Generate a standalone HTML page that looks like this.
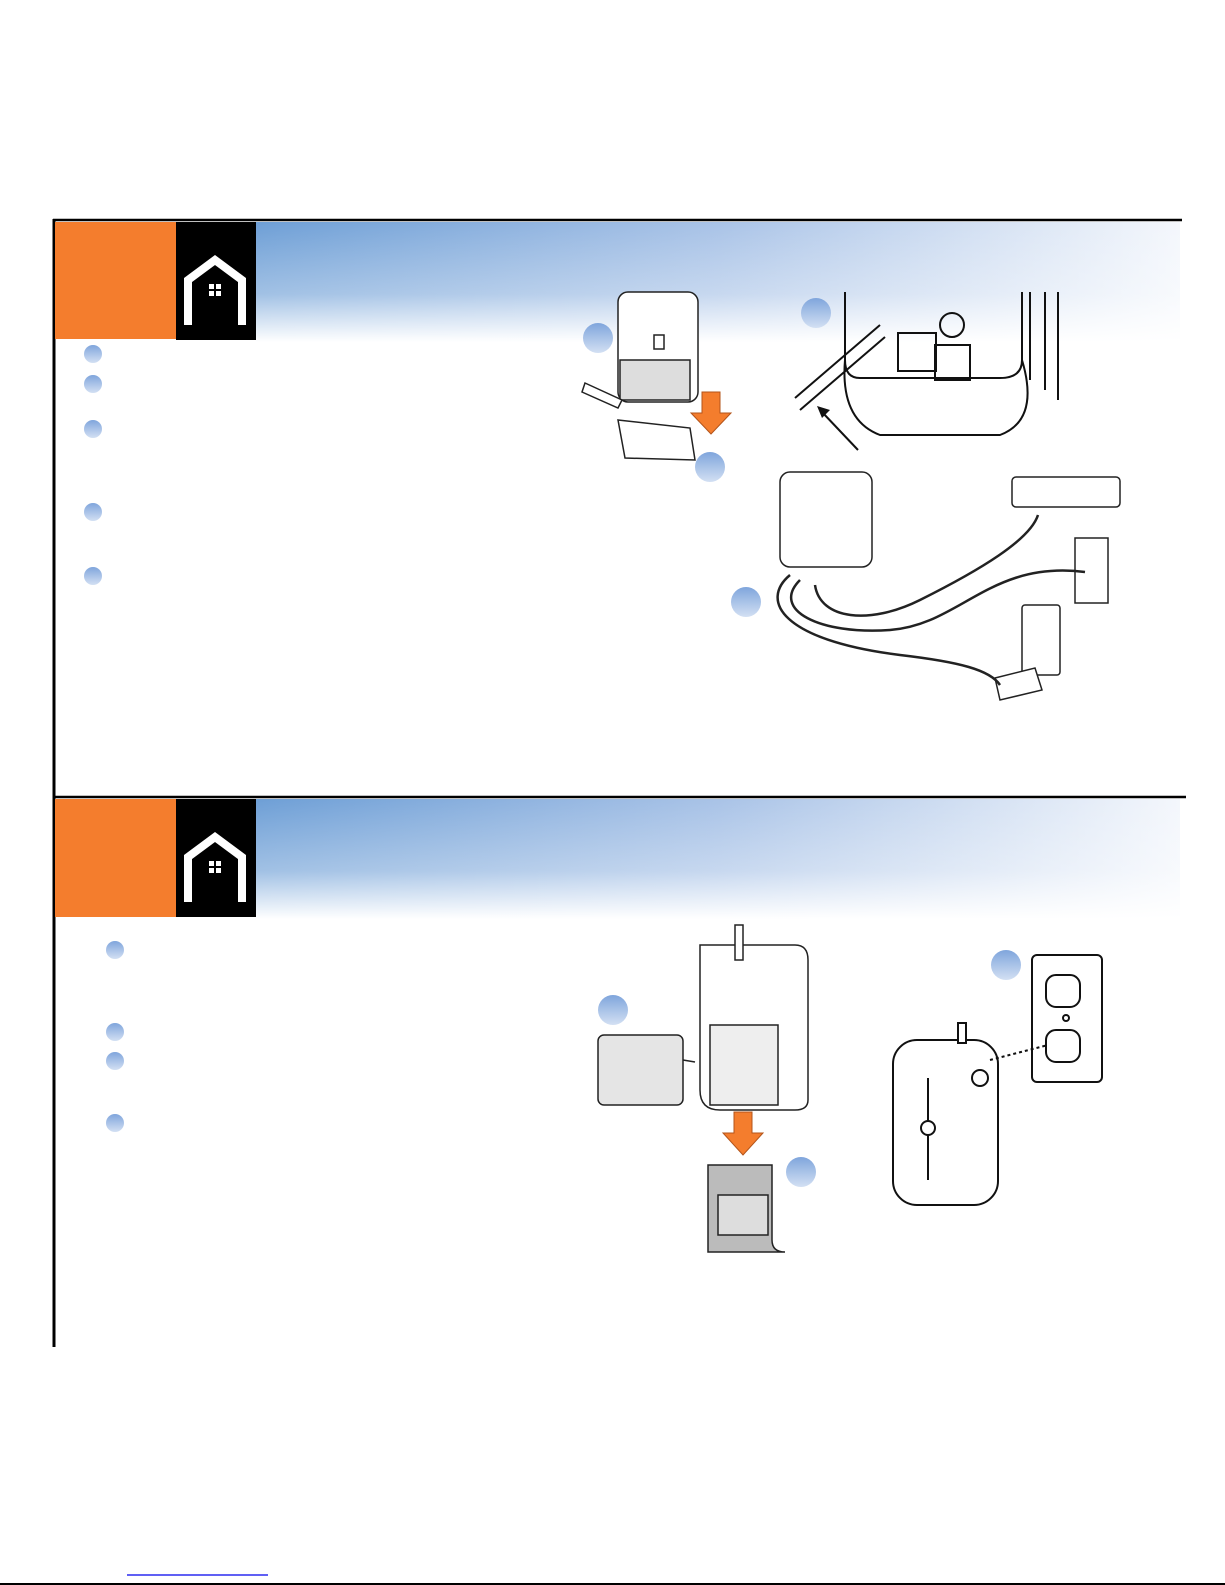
<!DOCTYPE html>
<html><head><meta charset="utf-8"><style>
html,body{margin:0;padding:0;background:#fff}
svg{display:block}
</style></head><body>
<svg width="1225" height="1585" viewBox="0 0 1225 1585" xmlns="http://www.w3.org/2000/svg">
<defs>
<linearGradient id="hg" x1="0" y1="0" x2="1" y2="0">
<stop offset="0" stop-color="#6e9fd6"/><stop offset="0.5" stop-color="#a9c3e7"/><stop offset="1" stop-color="#f4f7fc"/>
</linearGradient>
<linearGradient id="hv" x1="0" y1="0" x2="0" y2="1">
<stop offset="0" stop-color="#fff" stop-opacity="0"/><stop offset="0.6" stop-color="#fff" stop-opacity="0.35"/><stop offset="1" stop-color="#fff" stop-opacity="1"/>
</linearGradient>
<linearGradient id="bg" x1="0" y1="0" x2="0" y2="1">
<stop offset="0" stop-color="#7fa5dc"/><stop offset="1" stop-color="#d3e0f3"/>
</linearGradient>
<g id="house">
<path d="M12 70 V25 L39 5 L66 25 V70" fill="none" stroke="#fff" stroke-width="8"/>
<rect x="33" y="29" width="5" height="5" fill="#fff"/><rect x="40" y="29" width="5" height="5" fill="#fff"/>
<rect x="33" y="36" width="5" height="5" fill="#fff"/><rect x="40" y="36" width="5" height="5" fill="#fff"/>
</g>
</defs>
<line x1="53" y1="220" x2="1182" y2="220" stroke="#000" stroke-width="2.5"/>
<line x1="53" y1="797" x2="1186" y2="797" stroke="#000" stroke-width="2.5"/>
<line x1="54" y1="219" x2="54" y2="1347" stroke="#000" stroke-width="3"/>
<rect x="256" y="222" width="924" height="120" fill="url(#hg)"/>
<rect x="256" y="222" width="924" height="120" fill="url(#hv)"/>
<rect x="55" y="222" width="121" height="117" fill="#f47d2d"/>
<rect x="176" y="222" width="80" height="118" fill="#000"/>
<use href="#house" x="176" y="255"/>
<rect x="256" y="799" width="924" height="120" fill="url(#hg)"/>
<rect x="256" y="799" width="924" height="120" fill="url(#hv)"/>
<rect x="55" y="799" width="121" height="118" fill="#f47d2d"/>
<rect x="176" y="799" width="80" height="118" fill="#000"/>
<use href="#house" x="176" y="832"/>
<g fill="url(#bg)">
<circle cx="93" cy="354" r="9"/><circle cx="93" cy="384" r="9"/><circle cx="93" cy="429" r="9"/>
<circle cx="93" cy="512" r="9"/><circle cx="93" cy="576" r="9"/>
<circle cx="115" cy="950" r="9"/><circle cx="115" cy="1032" r="9"/><circle cx="115" cy="1061" r="9"/><circle cx="115" cy="1123" r="9"/>
<circle cx="598" cy="338" r="15"/><circle cx="816" cy="313" r="15"/><circle cx="710" cy="467" r="15"/>
<circle cx="746" cy="602" r="15"/><circle cx="613" cy="1010" r="15"/><circle cx="801" cy="1172" r="15"/><circle cx="1006" cy="965" r="15"/>
</g>
<g fill="none" stroke="#222" stroke-width="1.5">
<rect x="618" y="292" width="80" height="110" rx="10" fill="#fff"/>
<rect x="654" y="335" width="10" height="14"/>
<rect x="620" y="360" width="70" height="40" fill="#ddd"/>
<path d="M585 383 L622 400 L618 408 L582 392 Z" fill="#fff"/>
<path d="M618 420 L690 428 L695 460 L625 458 Z" fill="#fff"/>
</g>
<path d="M702 392 H720 V413 H731 L711 434 L691 413 H702 Z" fill="#f47d2d" stroke="#b3541a"/>
<g fill="none" stroke="#111" stroke-width="2">
<path d="M845 292 V360 Q845 378 860 378 H1000 Q1022 378 1022 360 V292"/>
<path d="M845 360 Q840 420 880 435 H1000 Q1040 420 1022 360"/>
<rect x="898" y="333" width="38" height="38"/><rect x="935" y="345" width="35" height="35"/>
<circle cx="952" cy="325" r="12"/>
<line x1="795" y1="398" x2="880" y2="325"/><line x1="800" y1="410" x2="885" y2="337"/>
<line x1="1030" y1="292" x2="1030" y2="380"/><line x1="1045" y1="292" x2="1045" y2="390"/><line x1="1058" y1="292" x2="1058" y2="400"/>
<line x1="858" y1="450" x2="822" y2="412"/>
</g>
<path d="M817 406 L830 410 L822 418 Z" fill="#111"/>
<g fill="none" stroke="#222" stroke-width="1.5">
<rect x="780" y="472" width="92" height="95" rx="10" fill="#fff"/>
<rect x="1012" y="477" width="108" height="30" rx="4" fill="#fff"/>
<rect x="1075" y="538" width="33" height="65" fill="#fff"/>
<rect x="1022" y="605" width="38" height="70" rx="3" fill="#fff"/>
<path d="M995 678 L1035 668 L1042 690 L1000 700 Z" fill="#fff"/>
<path d="M790 575 C760 600 780 640 900 655 C960 662 990 670 1000 685" stroke-width="2.5"/>
<path d="M800 580 C770 610 820 635 890 630 C960 625 990 560 1085 572" stroke-width="2.5"/>
<path d="M815 585 C820 620 870 625 920 600 C980 570 1030 540 1038 515" stroke-width="2.5"/>
</g>
<g fill="none" stroke="#222" stroke-width="1.5">
<path d="M700 945 H795 Q808 945 808 960 V1100 Q808 1110 795 1110 H720 Q700 1110 700 1090 Z" fill="#fff"/>
<rect x="710" y="1025" width="68" height="80" fill="#eee"/>
<rect x="735" y="925" width="8" height="35" fill="#fff"/>
<rect x="598" y="1035" width="85" height="70" rx="6" fill="#e5e5e5"/>
<path d="M683 1060 L695 1062"/>
<path d="M708 1165 H772 V1240 Q772 1252 785 1252 H708 Z" fill="#bbb"/>
<rect x="718" y="1195" width="50" height="40" fill="#ddd"/>
</g>
<path d="M734 1112 H752 V1133 H763 L743 1155 L723 1133 H734 Z" fill="#f47d2d" stroke="#b3541a"/>
<g fill="none" stroke="#111" stroke-width="2">
<rect x="1032" y="955" width="70" height="127" rx="5" fill="#fff"/>
<rect x="1046" y="975" width="34" height="32" rx="10"/>
<rect x="1046" y="1030" width="34" height="32" rx="10"/>
<circle cx="1066" cy="1018" r="3"/>
<rect x="893" y="1040" width="105" height="165" rx="24" fill="#fff"/>
<line x1="928" y1="1078" x2="928" y2="1180"/>
<circle cx="928" cy="1128" r="7" fill="#fff"/>
<rect x="958" y="1023" width="8" height="20" fill="#fff"/>
<circle cx="980" cy="1078" r="8" fill="#fff"/>
<line x1="990" y1="1060" x2="1048" y2="1045" stroke-dasharray="3,3"/>
</g>
<line x1="127" y1="1575" x2="268" y2="1575" stroke="#0000ee" stroke-width="1.2"/>
<line x1="0" y1="1584" x2="1225" y2="1584" stroke="#000" stroke-width="2"/>
</svg>
</body></html>
